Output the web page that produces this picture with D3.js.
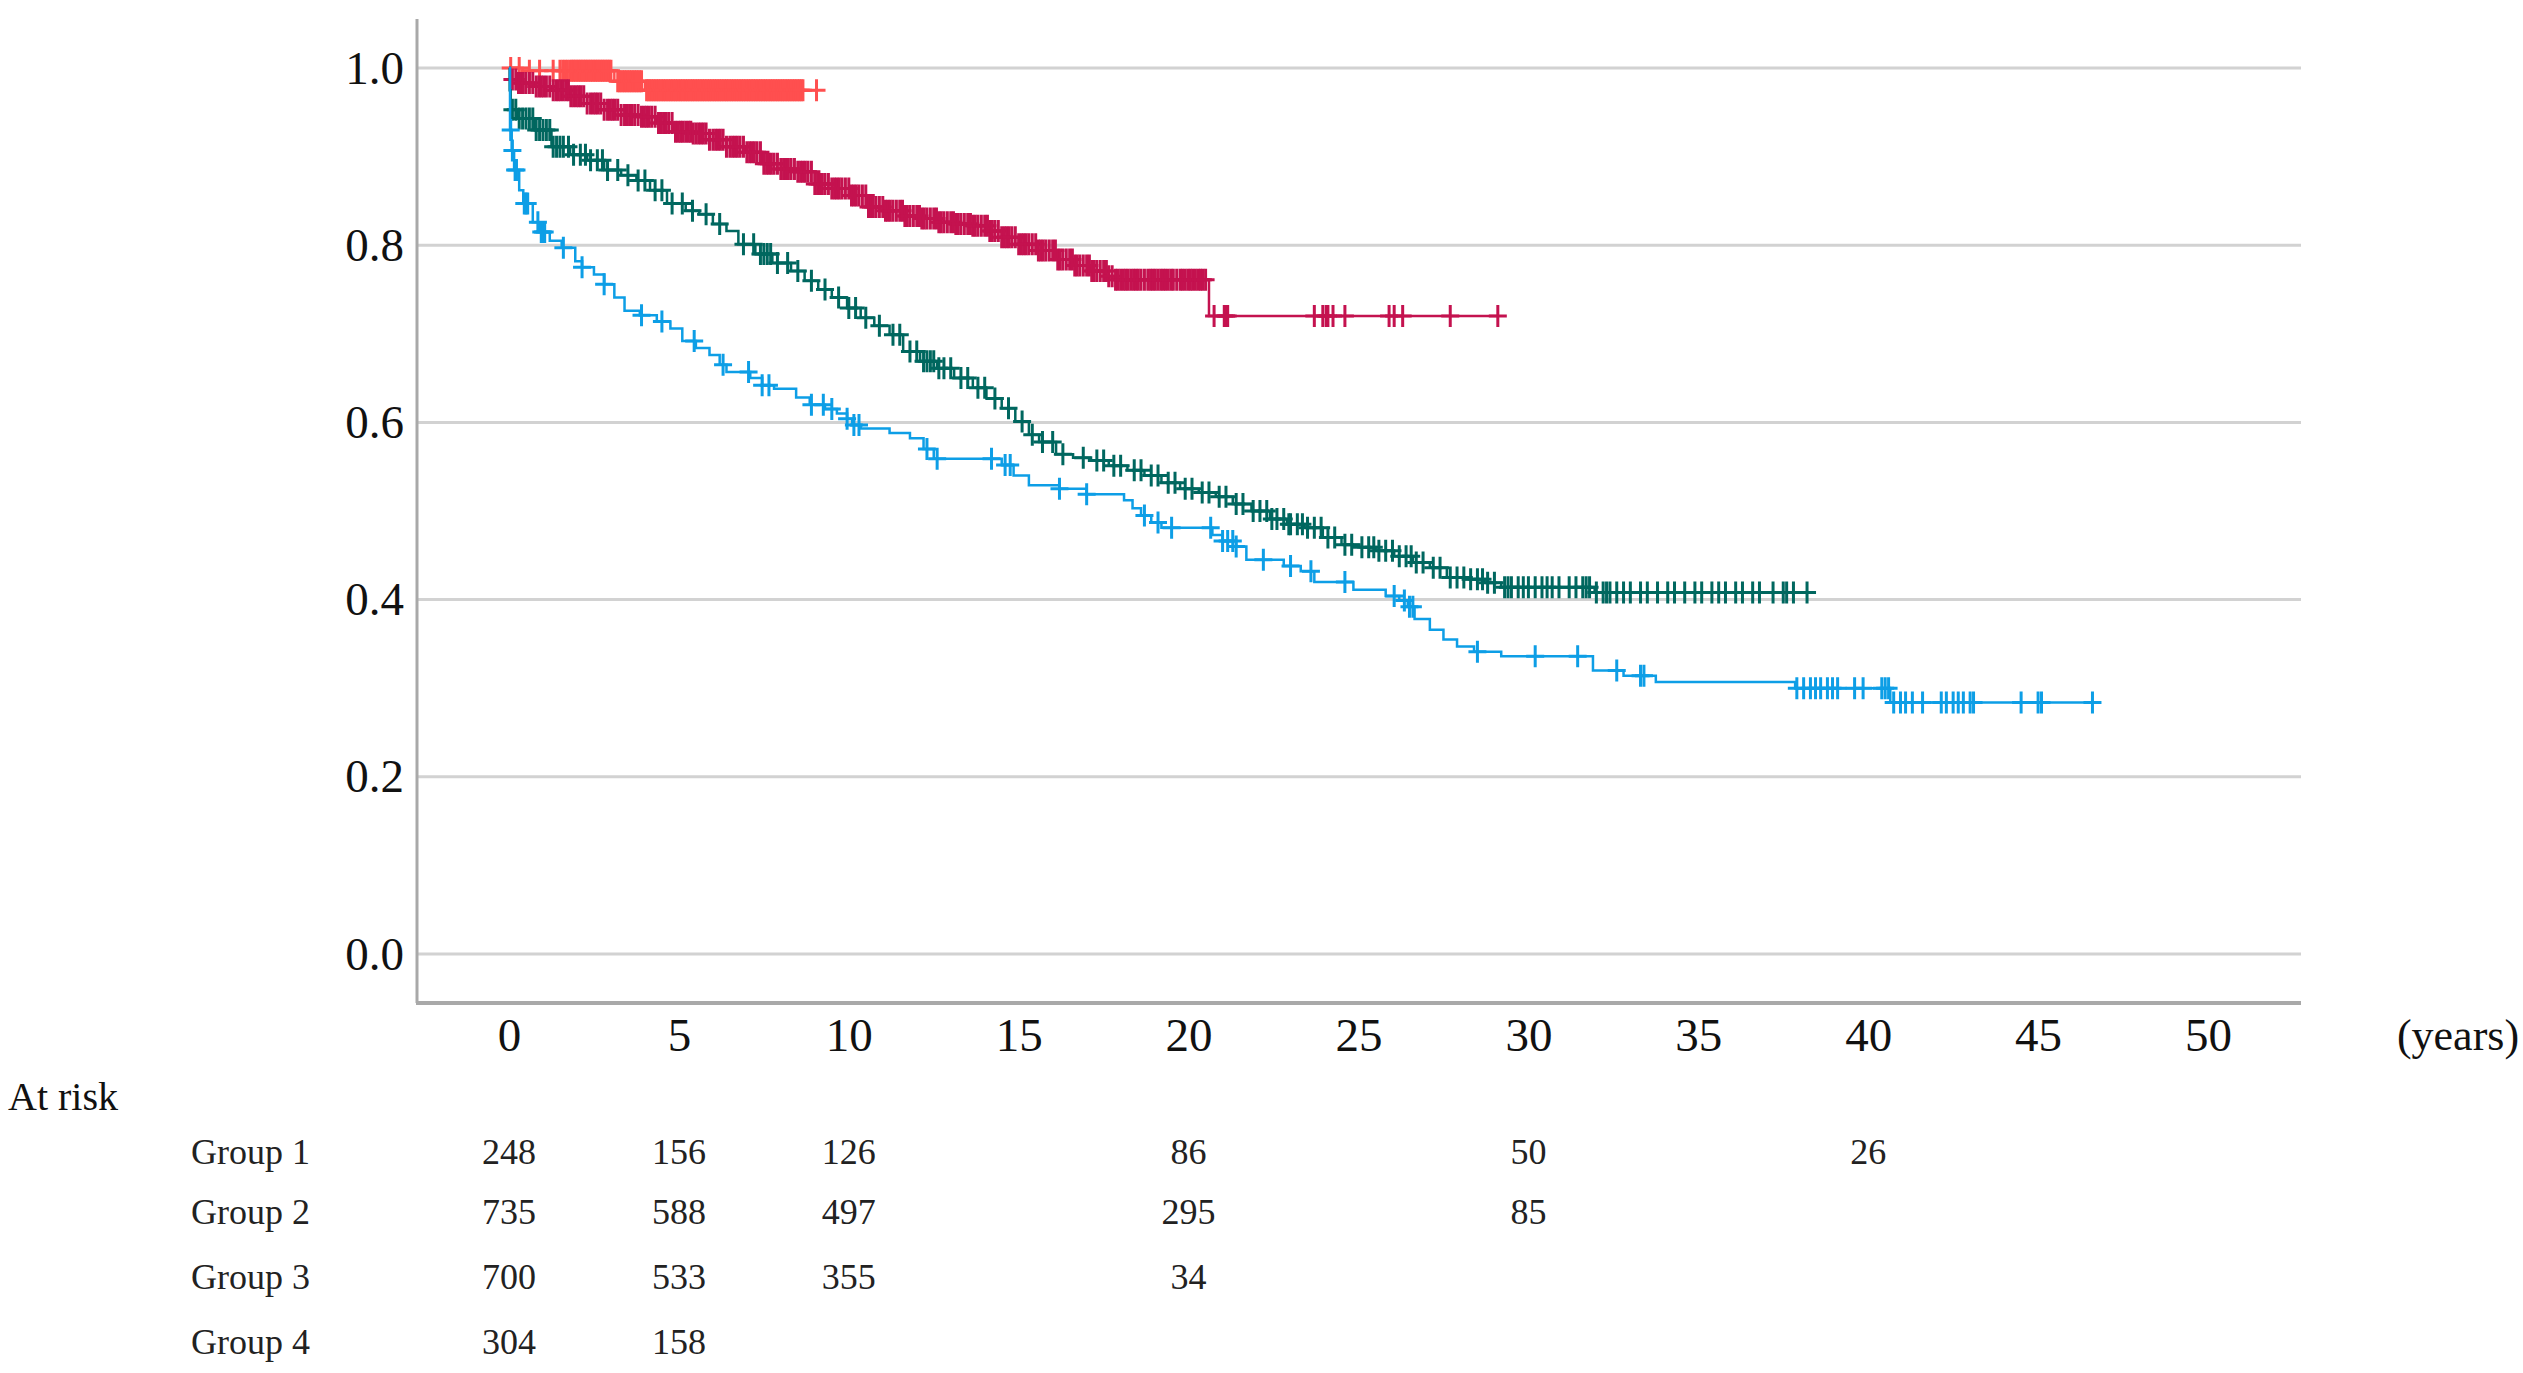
<!DOCTYPE html>
<html>
<head>
<meta charset="utf-8">
<script src="https://cdn.jsdelivr.net/npm/d3@7"></script>
<style>
  body { margin: 0; background: #fff; }
  svg { display: block; }
</style>
</head>
<body>
<div id="chart"></div>
<script>
// survival steps per group: [years, survival]
const group1Steps = [[0,1.000],[0.03,0.930],[0.08,0.907],[0.15,0.885],[0.30,0.862],[0.42,0.847],[0.70,0.826],[0.90,0.815],[1.20,0.805],[1.55,0.797],[1.95,0.782],[2.15,0.775],[2.50,0.767],[2.80,0.756],[3.10,0.741],[3.40,0.726],[3.85,0.721],[4.35,0.714],[4.75,0.706],[5.10,0.692],[5.50,0.684],[5.90,0.676],[6.20,0.665],[6.40,0.657],[7.10,0.650],[7.45,0.642],[7.80,0.638],[8.45,0.628],[8.85,0.620],[9.30,0.615],[9.65,0.610],[9.95,0.604],[10.10,0.597],[10.35,0.593],[11.20,0.588],[11.80,0.582],[12.20,0.570],[12.50,0.559],[14.50,0.552],[14.85,0.540],[15.30,0.529],[16.20,0.525],[17.00,0.519],[18.10,0.512],[18.35,0.503],[18.60,0.495],[18.90,0.487],[19.20,0.481],[20.70,0.473],[21.00,0.466],[21.40,0.460],[21.70,0.445],[22.80,0.438],[23.30,0.432],[23.70,0.420],[24.85,0.411],[25.80,0.404],[26.20,0.399],[26.45,0.392],[26.65,0.378],[27.10,0.366],[27.50,0.355],[27.90,0.347],[28.40,0.341],[29.20,0.336],[31.90,0.320],[32.80,0.314],[33.75,0.307],[37.85,0.300],[40.65,0.284]];
const group1End = 46.6;
const group1Censored = [0.05,0.10,0.18,0.22,0.45,0.50,0.55,0.85,0.95,1.00,1.05,1.60,2.15,2.80,3.90,4.50,5.45,6.30,7.05,7.45,7.65,8.90,9.25,9.50,9.95,10.15,10.30,12.30,12.60,14.20,14.60,14.75,16.20,17.00,18.70,19.10,19.50,20.65,21.00,21.15,21.30,21.40,22.20,23.00,23.60,24.60,26.05,26.35,26.50,26.60,28.50,30.20,31.45,32.60,33.30,33.40,37.90,38.10,38.30,38.45,38.60,38.80,38.95,39.10,39.60,39.85,40.40,40.50,40.60,40.75,40.95,41.10,41.30,41.60,42.15,42.30,42.50,42.65,42.80,43.00,43.10,44.50,45.00,45.10,46.60];

const group2Steps = [[0,1.000],[0.02,0.975],[0.05,0.953],[0.25,0.943],[0.75,0.930],[1.25,0.911],[1.80,0.902],[2.30,0.896],[2.80,0.885],[3.30,0.879],[3.75,0.873],[4.15,0.862],[4.65,0.847],[5.20,0.839],[5.60,0.835],[6.00,0.824],[6.40,0.816],[6.75,0.801],[7.25,0.790],[7.75,0.780],[8.30,0.771],[8.70,0.760],[9.10,0.750],[9.50,0.741],[9.95,0.729],[10.35,0.718],[10.75,0.709],[11.20,0.699],[11.60,0.680],[12.10,0.669],[12.60,0.661],[13.10,0.650],[13.65,0.639],[14.05,0.627],[14.50,0.616],[14.90,0.601],[15.30,0.586],[15.60,0.578],[16.10,0.564],[16.60,0.560],[17.10,0.557],[17.65,0.551],[18.20,0.546],[18.70,0.540],[19.20,0.532],[19.75,0.525],[20.30,0.521],[20.80,0.516],[21.30,0.508],[21.85,0.500],[22.40,0.491],[22.90,0.485],[23.40,0.481],[23.95,0.470],[24.50,0.462],[25.00,0.459],[25.50,0.455],[26.05,0.449],[26.60,0.442],[27.10,0.436],[27.60,0.425],[28.15,0.423],[28.70,0.419],[29.20,0.414],[31.95,0.408]];
const group2End = 38.2;
const group2Censored = [0.10,0.20,0.30,0.40,0.50,0.60,0.70,0.80,0.90,1.00,1.10,1.20,1.30,1.40,1.50,1.60,1.75,1.90,2.10,2.25,2.40,2.60,2.75,2.90,3.20,3.50,3.80,4.00,4.30,4.50,4.80,5.10,5.40,5.80,6.20,6.90,7.20,7.40,7.50,7.60,7.70,7.90,8.20,8.50,8.90,9.30,9.70,10.00,10.20,10.50,10.90,11.30,11.50,11.80,12.00,12.20,12.30,12.40,12.50,12.65,12.80,13.00,13.30,13.50,13.80,14.00,14.30,14.70,15.10,15.40,15.70,16.00,16.30,16.90,17.30,17.50,17.80,18.00,18.40,18.60,18.90,19.10,19.40,19.60,19.90,20.10,20.40,20.60,20.90,21.10,21.40,21.60,21.90,22.10,22.30,22.45,22.60,22.80,22.95,23.00,23.20,23.35,23.50,23.70,23.90,24.10,24.30,24.60,24.80,25.10,25.30,25.45,25.60,25.80,26.00,26.20,26.40,26.55,26.70,26.90,27.20,27.40,27.70,27.90,28.10,28.30,28.50,28.65,28.80,29.00,29.30,29.40,29.50,29.70,29.85,30.00,30.20,30.40,30.55,30.70,30.90,31.20,31.40,31.60,31.70,31.80,32.00,32.20,32.30,32.40,32.60,32.80,33.00,33.30,33.50,33.80,34.10,34.30,34.60,34.90,35.10,35.40,35.60,35.80,36.10,36.30,36.60,36.80,37.20,37.50,37.60,37.80,38.20];

const group3Steps = [[0,1.000],[0.03,0.987],[0.25,0.983],[0.75,0.979],[1.25,0.975],[1.80,0.968],[2.30,0.960],[2.80,0.953],[3.30,0.947],[3.85,0.945],[4.35,0.938],[4.85,0.928],[5.40,0.926],[5.90,0.919],[6.40,0.911],[6.95,0.905],[7.45,0.892],[8.00,0.886],[8.50,0.883],[9.00,0.869],[9.50,0.864],[10.05,0.856],[10.55,0.843],[11.05,0.839],[11.60,0.833],[12.10,0.830],[12.60,0.826],[13.10,0.824],[13.65,0.822],[14.15,0.816],[14.50,0.809],[15.00,0.801],[15.55,0.794],[16.10,0.784],[16.60,0.777],[17.10,0.771],[17.65,0.765],[17.85,0.761],[20.60,0.720]];
const group3End = 29.1;
const group3Censored = [0.10,0.20,0.28,0.35,0.42,0.50,0.60,0.70,0.80,0.88,0.95,1.02,1.10,1.20,1.30,1.38,1.45,1.52,1.60,1.68,1.75,1.82,1.90,1.98,2.05,2.12,2.20,2.30,2.40,2.48,2.55,2.62,2.70,2.80,2.90,2.98,3.05,3.12,3.20,3.30,3.40,3.48,3.55,3.62,3.70,3.80,3.90,3.98,4.05,4.12,4.20,4.30,4.40,4.48,4.55,4.62,4.70,4.80,4.90,4.98,5.05,5.12,5.20,5.28,5.35,5.42,5.50,5.58,5.65,5.72,5.80,5.90,6.00,6.08,6.15,6.22,6.30,6.40,6.50,6.58,6.65,6.72,6.80,6.90,7.00,7.08,7.15,7.22,7.30,7.40,7.50,7.58,7.65,7.72,7.80,7.90,8.00,8.08,8.15,8.22,8.30,8.40,8.50,8.58,8.65,8.72,8.80,8.90,9.00,9.08,9.15,9.22,9.30,9.40,9.50,9.58,9.65,9.72,9.80,9.90,10.00,10.08,10.15,10.22,10.30,10.40,10.50,10.58,10.65,10.72,10.80,10.90,11.00,11.08,11.15,11.22,11.30,11.40,11.50,11.58,11.65,11.72,11.80,11.90,12.00,12.08,12.15,12.22,12.30,12.40,12.50,12.58,12.65,12.72,12.80,12.90,13.00,13.08,13.15,13.22,13.30,13.40,13.50,13.58,13.65,13.72,13.80,13.90,14.00,14.08,14.15,14.22,14.30,14.40,14.50,14.58,14.65,14.72,14.80,14.90,15.00,15.08,15.15,15.22,15.30,15.40,15.50,15.58,15.65,15.72,15.80,15.90,16.00,16.08,16.15,16.22,16.30,16.40,16.50,16.58,16.65,16.72,16.80,16.90,17.00,17.08,17.15,17.22,17.30,17.40,17.50,17.58,17.65,17.75,17.85,17.92,18.00,18.08,18.15,18.22,18.30,18.38,18.45,18.52,18.60,18.70,18.80,18.88,18.95,19.02,19.10,19.18,19.25,19.32,19.40,19.48,19.55,19.65,19.75,19.82,19.90,19.98,20.05,20.12,20.20,20.28,20.35,20.42,20.50,20.75,21.05,21.10,21.15,23.70,23.95,24.05,24.10,24.25,24.60,25.90,26.05,26.30,27.70,29.10];

const group4Steps = [[0,1.000],[0.40,0.997],[3.10,0.985],[4.00,0.975]];
const group4End = 9.1;
const group4Censored = [0.05,0.30,0.60,0.90,1.30,1.50,1.58,1.65,1.72,1.80,1.85,1.90,1.95,2.00,2.05,2.10,2.15,2.20,2.25,2.30,2.35,2.40,2.45,2.50,2.55,2.60,2.65,2.70,2.75,2.80,2.85,2.90,2.95,3.00,3.20,3.25,3.30,3.35,3.40,3.45,3.50,3.55,3.60,3.65,3.70,3.75,3.80,3.85,3.90,4.05,4.10,4.15,4.20,4.25,4.30,4.35,4.40,4.45,4.50,4.55,4.60,4.65,4.70,4.75,4.80,4.85,4.90,4.95,5.00,5.05,5.10,5.15,5.20,5.25,5.30,5.35,5.40,5.45,5.50,5.55,5.60,5.65,5.70,5.75,5.80,5.85,5.90,5.95,6.00,6.05,6.10,6.15,6.20,6.25,6.30,6.35,6.40,6.45,6.50,6.55,6.60,6.65,6.70,6.75,6.80,6.85,6.90,6.95,7.00,7.05,7.10,7.15,7.20,7.25,7.30,7.35,7.40,7.45,7.50,7.55,7.60,7.65,7.70,7.75,7.80,7.85,7.90,7.95,8.00,8.05,8.10,8.15,8.20,8.25,8.30,8.35,8.40,8.45,8.50,8.55,8.60,8.65,9.05];

const groupNames = ["Group 1", "Group 2", "Group 3", "Group 4"];
const groupColors = ["#0d9ee6", "#00675f", "#c4124f", "#ff4f4f"];

const xTicks = [0, 5, 10, 15, 20, 25, 30, 35, 40, 45, 50];
const yTicks = [0, 0.2, 0.4, 0.6, 0.8, 1.0];

// numbers at risk
const riskTimes = [0, 5, 10, 20, 30, 40];
const riskGroup1 = [248, 156, 126, 86, 50, 26];
const riskGroup2 = [735, 588, 497, 295, 85, null];
const riskGroup3 = [700, 533, 355, 34, null, null];
const riskGroup4 = [304, 158, null, null, null, null];

const width = 2523, height = 1373;
const plotLeft = 417, plotRight = 2301, axisTop = 19, axisBottom = 1003;

const x = d3.scaleLinear().domain([0, 50]).range([509, 2208]);
const y = d3.scaleLinear().domain([0, 1]).range([954, 68]);

const svg = d3.select("#chart")
  .append("svg")
  .attr("width", width)
  .attr("height", height)
  .style("font-family", "'Liberation Serif', 'Times New Roman', serif");

svg.append("rect").attr("width", width).attr("height", height).attr("fill", "#fff");

// gridlines
svg.append("g")
  .selectAll("line")
  .data(yTicks)
  .enter()
  .append("line")
  .attr("x1", plotLeft)
  .attr("x2", plotRight)
  .attr("y1", d => y(d))
  .attr("y2", d => y(d))
  .attr("stroke", "#d2d2d2")
  .attr("stroke-width", 3);

// axis lines
svg.append("line")
  .attr("x1", plotLeft).attr("x2", plotLeft)
  .attr("y1", axisTop).attr("y2", axisBottom)
  .attr("stroke", "#a9a9a9").attr("stroke-width", 3);
svg.append("line")
  .attr("x1", plotLeft - 1).attr("x2", plotRight)
  .attr("y1", axisBottom).attr("y2", axisBottom)
  .attr("stroke", "#a9a9a9").attr("stroke-width", 4);

const yAxis = d3.axisLeft(y).tickValues(yTicks).tickSize(0).tickPadding(13).tickFormat(d3.format(".1f"));
svg.append("g")
  .attr("transform", `translate(${plotLeft},0)`)
  .call(yAxis)
  .call(g => g.select(".domain").remove())
  .call(g => g.selectAll("text")
    .attr("font-family", "'Liberation Serif', serif")
    .attr("font-size", 47)
    .attr("fill", "#111"));

const xAxis = d3.axisBottom(x).tickValues(xTicks).tickSize(0).tickFormat(d3.format("d"));
svg.append("g")
  .attr("transform", `translate(0,${axisBottom})`)
  .call(xAxis)
  .call(g => g.select(".domain").remove())
  .call(g => g.selectAll("text")
    .attr("y", 32)
    .attr("dy", "0.35em")
    .attr("font-family", "'Liberation Serif', serif")
    .attr("font-size", 47)
    .attr("fill", "#111"));

svg.append("text")
  .attr("x", 2458)
  .attr("y", 1035)
  .attr("dy", "0.35em")
  .attr("text-anchor", "middle")
  .attr("font-size", 44)
  .attr("fill", "#111")
  .text("(years)");

// survival curves
const groups = [
  { steps: group1Steps, end: group1End, censored: group1Censored },
  { steps: group2Steps, end: group2End, censored: group2Censored },
  { steps: group3Steps, end: group3End, censored: group3Censored },
  { steps: group4Steps, end: group4End, censored: group4Censored }
];

function survivalAt(steps, t) {
  let s = steps[0][1];
  for (const st of steps) {
    if (st[0] <= t) s = st[1];
  }
  return s;
}

const line = d3.line()
  .curve(d3.curveStepAfter)
  .x(d => x(d[0]))
  .y(d => y(d[1]));

const mark = 9;
const drawOrder = [3, 2, 1, 0];
drawOrder.forEach(i => {
  const grp = groups[i];
  const pts = grp.steps.concat([[grp.end, grp.steps[grp.steps.length - 1][1]]]);
  const g = svg.append("g").attr("class", "curve");
  g.append("path")
    .datum(pts)
    .attr("fill", "none")
    .attr("stroke", groupColors[i])
    .attr("stroke-width", 2.5)
    .attr("d", line);

  g.selectAll(".cens")
    .data(grp.censored)
    .enter()
    .append("path")
    .attr("class", "cens")
    .attr("fill", "none")
    .attr("stroke", groupColors[i])
    .attr("stroke-width", 3)
    .attr("d", t => {
      const cx = x(t), cy = y(survivalAt(grp.steps, t));
      return `M${cx - mark},${cy}H${cx + mark}M${cx},${cy - mark - 2}V${cy + mark + 2}`;
    });
});

// at risk table
svg.append("text")
  .attr("x", 8)
  .attr("y", 1096)
  .attr("dy", "0.35em")
  .attr("font-size", 40)
  .attr("fill", "#111")
  .text("At risk");

const riskRows = [riskGroup1, riskGroup2, riskGroup3, riskGroup4];
const rowY = [1151, 1211, 1276, 1341];

riskRows.forEach((row, r) => {
  svg.append("text")
    .attr("x", 191)
    .attr("y", rowY[r])
    .attr("dy", "0.35em")
    .attr("font-size", 36)
    .attr("fill", "#222")
    .text(groupNames[r]);

  svg.append("g")
    .selectAll("text")
    .data(riskTimes.map((t, k) => ({ t, n: row[k] })).filter(d => d.n !== null))
    .enter()
    .append("text")
    .attr("x", d => x(d.t))
    .attr("y", rowY[r])
    .attr("dy", "0.35em")
    .attr("text-anchor", "middle")
    .attr("font-size", 36)
    .attr("fill", "#222")
    .text(d => d.n);
});
</script>
</body>
</html>
